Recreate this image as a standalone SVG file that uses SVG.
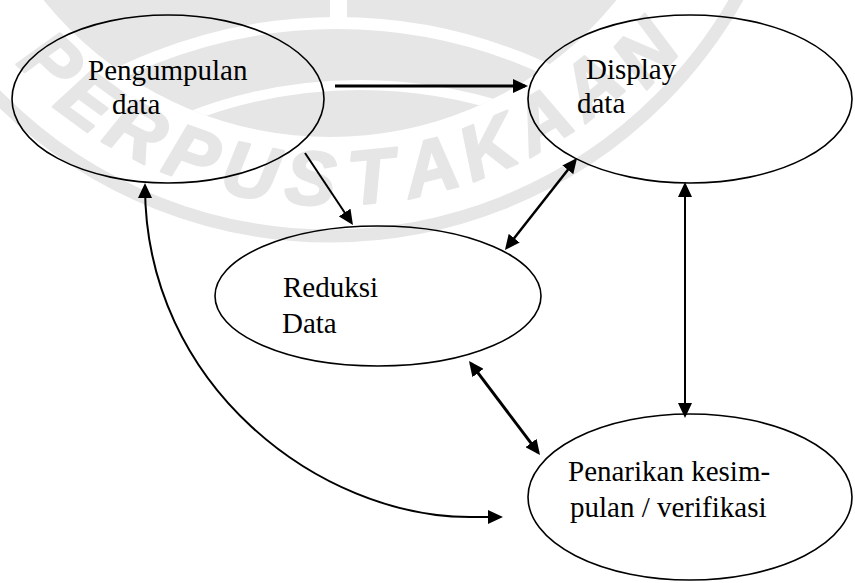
<svg xmlns="http://www.w3.org/2000/svg" width="855" height="583" viewBox="0 0 855 583">
  <defs>
    <style>
      .node { fill: none; stroke: #000; stroke-width: 1.6; }
      .label { font-family: "Liberation Serif", "Times New Roman", serif; font-size: 29px; fill: #000; }
      .link { fill: none; stroke: #000; }
      .wm { fill: #e6e6e6; }
      .wm-letter { font-family: "Liberation Sans", Arial, sans-serif; font-weight: bold; font-style: italic; font-size: 76px; fill: #e6e6e6; stroke: #e6e6e6; stroke-width: 2.5; stroke-linejoin: round; text-anchor: middle; }
    </style>
    <marker id="head" viewBox="0 0 15 14" markerWidth="15" markerHeight="14" refX="12" refY="7" orient="auto-start-reverse" markerUnits="userSpaceOnUse">
      <path d="M0,0 L15,7 L0,14 z" fill="#000"/>
    </marker>
    <clipPath id="disk-clip">
      <circle cx="330" cy="-231" r="368"/>
    </clipPath>
  </defs>

  <rect width="855" height="583" fill="#fff"/>

  <!-- library stamp in the background -->
  <g id="stamp">
    <circle class="wm" cx="330" cy="-231" r="368"/>
    <g clip-path="url(#disk-clip)" fill="none" stroke="#fff">
      <rect x="330" y="0" width="17" height="26" fill="#fff" stroke="none"/>
      <circle cx="337" cy="520" r="497" stroke-width="12"/>
      <circle cx="360" cy="560" r="475" stroke-width="10"/>
    </g>
    <circle cx="330" cy="-231" r="467" fill="none" stroke="#e6e6e6" stroke-width="13"/>
    <text class="wm-letter" transform="translate(34,80.9) rotate(43.5)">P</text>
    <text class="wm-letter" transform="translate(72.5,121) rotate(36.2)">E</text>
    <text class="wm-letter" transform="translate(124.7,153.6) rotate(28.09)">R</text>
    <text class="wm-letter" transform="translate(183.5,179.6) rotate(19.64)">P</text>
    <text class="wm-letter" transform="translate(245.5,196.7) rotate(11.18)">U</text>
    <text class="wm-letter" transform="translate(309.2,204.5) rotate(2.73)">S</text>
    <text class="wm-letter" transform="translate(373.5,202.8) rotate(-5.73)">T</text>
    <text class="wm-letter" transform="translate(436.8,191.7) rotate(-14.18)">A</text>
    <text class="wm-letter" transform="translate(497.8,171.4) rotate(-22.64)">K</text>
    <text class="wm-letter" transform="translate(555.1,142.4) rotate(-31.09)">A</text>
    <text class="wm-letter" transform="translate(607.7,105) rotate(-39.55)">A</text>
    <text class="wm-letter" transform="translate(664.4,70.1) rotate(-48)">N</text>
  </g>

  <!-- nodes -->
  <g id="pengumpulan">
    <ellipse class="node" cx="168" cy="99" rx="156" ry="84"/>
    <text class="label" x="88" y="80">Pengumpulan</text>
    <text class="label" x="112" y="114">data</text>
  </g>
  <g id="display">
    <ellipse class="node" cx="690" cy="99" rx="162" ry="84"/>
    <text class="label" x="586" y="79">Display</text>
    <text class="label" x="577" y="113">data</text>
  </g>
  <g id="reduksi">
    <ellipse class="node" cx="378" cy="296" rx="163" ry="70"/>
    <text class="label" x="283" y="297">Reduksi</text>
    <text class="label" x="282" y="333">Data</text>
  </g>
  <g id="penarikan">
    <ellipse class="node" cx="690" cy="497" rx="162" ry="83"/>
    <text class="label" x="568" y="481">Penarikan kesim-</text>
    <text class="label" x="570" y="517">pulan / verifikasi</text>
  </g>

  <!-- connectors -->
  <g id="connectors">
    <line class="link" x1="335" y1="86" x2="525" y2="86" stroke-width="3" marker-end="url(#head)"/>
    <line class="link" x1="305" y1="153" x2="351.3" y2="222.5" stroke-width="2" marker-end="url(#head)"/>
    <line class="link" x1="506.8" y1="247.6" x2="575.2" y2="160.4" stroke-width="2.5" marker-start="url(#head)" marker-end="url(#head)"/>
    <line class="link" x1="685" y1="185" x2="685" y2="415" stroke-width="2" marker-start="url(#head)" marker-end="url(#head)"/>
    <line class="link" x1="470.8" y1="363.4" x2="538.2" y2="452.6" stroke-width="3" marker-start="url(#head)" marker-end="url(#head)"/>
    <path class="link" d="M145,186 C145,386 320,517 470,517 L500,517" stroke-width="2" marker-start="url(#head)" marker-end="url(#head)"/>
  </g>
</svg>
